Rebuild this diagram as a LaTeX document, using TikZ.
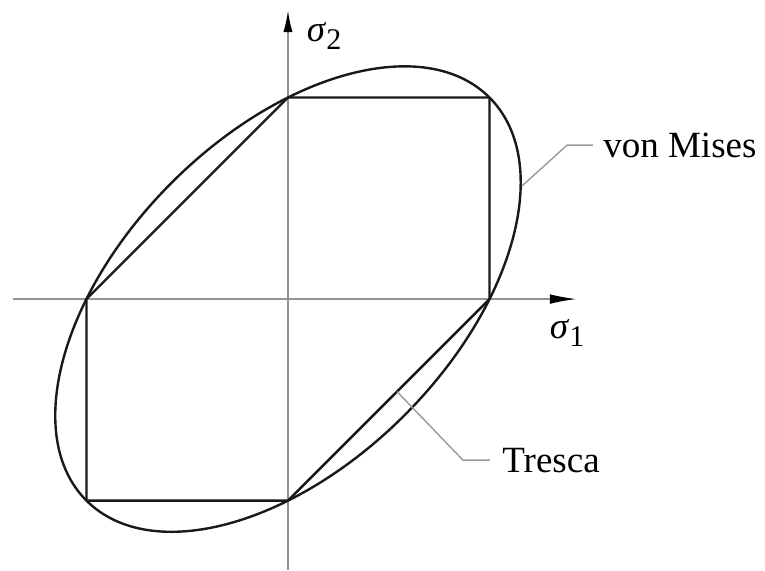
\documentclass[tikz,border=0pt]{standalone}
\usepackage{fontspec}
\setmainfont{Liberation Serif}
\usetikzlibrary{arrows.meta,positioning}

\begin{document}
\begin{tikzpicture}[
    x=100.75pt, y=100.75pt,
    font=\fontsize{18.5}{22}\selectfont,
    axis/.style={draw=gray!85, line width=0.9pt},
    yieldline/.style={draw=black!90, line width=1.2pt, line join=round},
    leader/.style={draw=gray!80, line width=0.7pt},
    lbl/.style={inner sep=0pt}
]
\useasboundingbox (-1.429,-1.345) rectangle (2.367,1.484);
% axes
\coordinate (O) at (0,0);
\coordinate (xl) at (-1.365,0);
\coordinate (xr) at (1.434,0);
\coordinate (yb) at (0,-1.345);
\coordinate (yt) at (0,1.434);
\draw[axis, -{Latex[length=13.5pt, width=4.8pt, color=black]}] (xl) -- (xr);
\draw[axis, -{Latex[length=11pt, width=4.6pt, color=black]}] (yb) -- (yt);
\node[lbl] (s2) at (0.179,1.305) {\textit{σ}\raisebox{-0.45ex}{\fontsize{15}{18}\selectfont 2}};
\node[lbl] (s1) at (1.385,-0.169) {\textit{σ}\raisebox{-0.45ex}{\fontsize{15}{18}\selectfont 1}};

% Tresca hexagon
\coordinate (p1) at (1,0);
\coordinate (p2) at (1,1);
\coordinate (p3) at (0,1);
\coordinate (p4) at (-1,0);
\coordinate (p5) at (-1,-1);
\coordinate (p6) at (0,-1);
\draw[yieldline] (p1) -- (p2) -- (p3) -- (p4) -- (p5) -- (p6) -- cycle;

% von Mises ellipse
\draw[yieldline, rotate around={45:(O)}] (O) ellipse [x radius=1.4142, y radius=0.8165];

% labels
\coordinate (vm) at (1.161,0.561);
\coordinate (vmk) at (1.385,0.764);
\node[lbl, anchor=west] (vmises) at (1.563,0.764) {von Mises};
\draw[leader] (vm) -- (vmk) -- ([xshift=-5pt]vmises.west);
\coordinate (tr) at (0.541,-0.459);
\coordinate (trk) at (0.868,-0.799);
\node[lbl, anchor=west] (tresca) at (1.062,-0.799) {Tresca};
\draw[leader] (tr) -- (trk) -- ([xshift=-6pt]tresca.west);
\end{tikzpicture}
\end{document}
